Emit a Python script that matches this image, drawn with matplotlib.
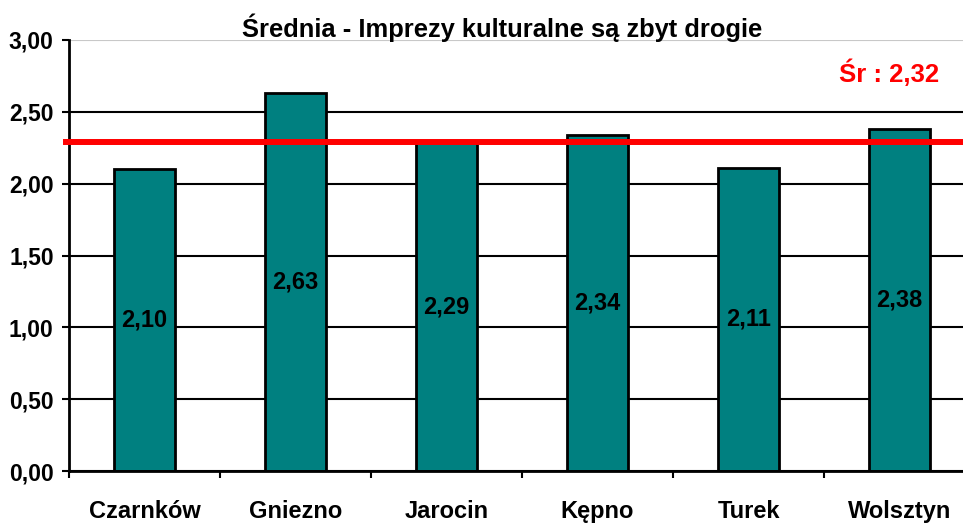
import numpy as np
import matplotlib.pyplot as plt
from matplotlib.ticker import FixedLocator

plt.rcParams['font.family'] = ['Liberation Sans', 'DejaVu Sans']
plt.rcParams['font.weight'] = 'bold'

# data
towns = ['Czarnków', 'Gniezno', 'Jarocin', 'Kępno', 'Turek', 'Wolsztyn']
means = [2.10, 2.63, 2.29, 2.34, 2.11, 2.38]
mean_line = 2.29
mean_label = 'Śr : 2,32'
title = 'Średnia - Imprezy kulturalne są zbyt drogie'
yticks = [0.0, 0.5, 1.0, 1.5, 2.0, 2.5, 3.0]

fig = plt.figure(figsize=(9.63, 5.23), dpi=100)
ax = fig.add_axes([69 / 963, 1 - 471 / 523, 906 / 963, 431 / 523])

x = np.arange(len(towns))
ax.bar(x, means, width=0.41, color='#008080', edgecolor='black', linewidth=2, zorder=2)

for xi, v in zip(x, means):
    ax.text(xi, v / 2, f'{v:.2f}'.replace('.', ','), ha='center', va='center',
            fontsize=17, fontweight='bold', zorder=4)

# average line
ax.axhline(mean_line, xmin=-0.003, color='red', lw=4.3, zorder=3, clip_on=False)
fig.text(889 / 963, 1 - 73 / 523, mean_label, color='red', fontsize=18.5,
         fontweight='bold', ha='center', va='center')

ax.set_xlim(-0.5, len(towns) - 0.5)
ax.set_ylim(0, 3)
ax.set_yticks(yticks)
ax.set_yticklabels([f'{t:.2f}'.replace('.', ',') for t in yticks], fontsize=16.5, fontweight='bold')
ax.set_xticks(x)
ax.set_xticklabels(towns, fontsize=17, fontweight='bold')
ax.xaxis.set_minor_locator(FixedLocator(np.arange(-0.5, len(towns), 1.0)))
ax.tick_params(axis='x', which='major', length=0, pad=21)
ax.tick_params(axis='x', which='minor', length=5, width=1.5, direction='out')
ax.tick_params(axis='y', length=5, width=1.5, pad=6)

ax.yaxis.grid(True, color='black', lw=1.5)
ax.set_axisbelow(True)
ax.get_ygridlines()[-1].set_color('#c8c8c8')
ax.get_ygridlines()[-1].set_linewidth(0.8)

for s in ['top', 'right']:
    ax.spines[s].set_visible(False)
ax.spines['left'].set_linewidth(2)
ax.spines['bottom'].set_linewidth(2)

fig.text(502 / 963, 1 - 28 / 523, title, fontsize=18.4, fontweight='bold', ha='center', va='center')

fig.savefig('out.png', dpi=100)
